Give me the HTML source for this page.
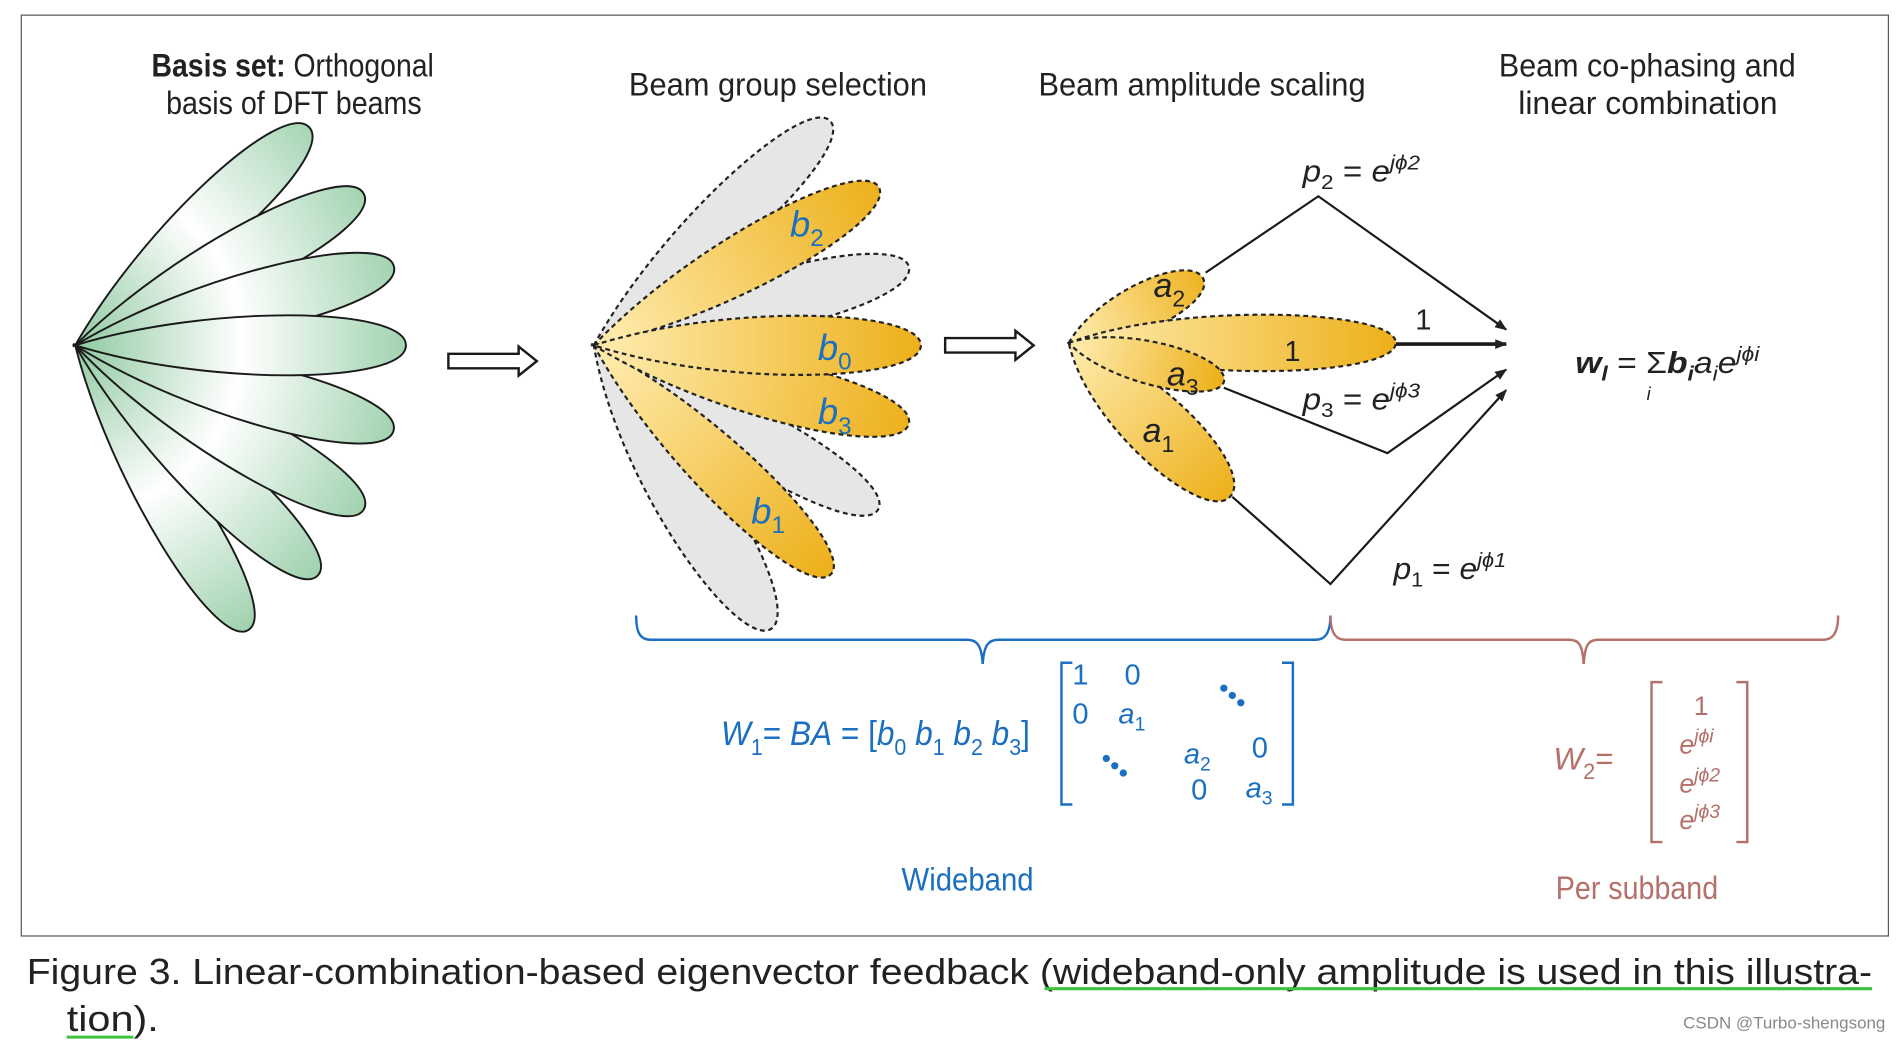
<!DOCTYPE html>
<html><head><meta charset="utf-8"><style>html,body{margin:0;padding:0;background:#fff}svg{display:block}text{font-family:"Liberation Sans",sans-serif}</style></head>
<body>
<svg width="1900" height="1042" viewBox="0 0 1568 860" xmlns="http://www.w3.org/2000/svg">
<defs>
<linearGradient id="g" gradientUnits="userSpaceOnUse" x1="0" y1="0" x2="275" y2="0"><stop offset="0" stop-color="#8fc9a0"/><stop offset="0.5" stop-color="#ffffff"/><stop offset="1" stop-color="#9fd2ae"/></linearGradient>
<linearGradient id="o" gradientUnits="userSpaceOnUse" x1="20" y1="0" x2="270" y2="0"><stop offset="0" stop-color="#fee9a8"/><stop offset="1" stop-color="#edb01a"/></linearGradient>
<linearGradient id="o2" gradientUnits="userSpaceOnUse" x1="10" y1="0" x2="130" y2="0"><stop offset="0" stop-color="#fee9a8"/><stop offset="1" stop-color="#edb01a"/></linearGradient>
<linearGradient id="o3" gradientUnits="userSpaceOnUse" x1="10" y1="0" x2="185" y2="0"><stop offset="0" stop-color="#fee9a8"/><stop offset="1" stop-color="#edb01a"/></linearGradient>
<marker id="ar" markerWidth="10" markerHeight="8" refX="9" refY="4" orient="auto" markerUnits="userSpaceOnUse"><path d="M0,0 L10,4 L0,8 Z" fill="#222"/></marker>
</defs>
<rect x="17.5" y="12.5" width="1541" height="760" fill="#fff" stroke="#555" stroke-width="1"/>

<g transform="translate(62,285)" stroke="#1a1a1a" stroke-width="1.6" fill="url(#g)">
<path transform="rotate(58.7)" d="M0,0 C110,-34 275,-32 275,0 C275,32 110,34 0,0Z"/>
<path transform="rotate(43.5)" d="M0,0 C110,-34 276,-32 276,0 C276,32 110,34 0,0Z"/>
<path transform="rotate(29.6)" d="M0,0 C110,-34 274,-32 274,0 C274,32 110,34 0,0Z"/>
<path transform="rotate(15)" d="M0,0 C110,-34 272,-32 272,0 C272,32 110,34 0,0Z"/>
<path transform="rotate(-43)" d="M0,0 C110,-34 264,-32 264,0 C264,32 110,34 0,0Z"/>
<path transform="rotate(-27.7)" d="M0,0 C110,-34 269,-32 269,0 C269,32 110,34 0,0Z"/>
<path transform="rotate(-13.9)" d="M0,0 C110,-34 271,-32 271,0 C271,32 110,34 0,0Z"/>
<path transform="rotate(0)" d="M0,0 C110,-34 273,-32 273,0 C273,32 110,34 0,0Z"/>
</g>

<g transform="translate(490,285)" stroke="#222" stroke-width="1.8" stroke-dasharray="4,3">
<path transform="rotate(58)" fill="#e6e6e6" d="M0,0 C110,-45 276,-32 276,0 C276,32 110,45 0,0Z"/>
<path transform="rotate(30)" fill="#e6e6e6" d="M0,0 C110,-35 271,-30 271,0 C271,30 110,35 0,0Z"/>
<path transform="rotate(-43.5)" fill="#e6e6e6" d="M0,0 C110,-35 269,-30 269,0 C269,30 110,35 0,0Z"/>
<path transform="rotate(-14)" fill="#e6e6e6" d="M0,0 C110,-35 268,-30 268,0 C268,30 110,35 0,0Z"/>
<path transform="rotate(44)" fill="url(#o)" d="M0,0 C110,-35 272,-30 272,0 C272,30 110,35 0,0Z"/>
<path transform="rotate(-29)" fill="url(#o)" d="M0,0 C110,-35 269,-30 269,0 C269,30 110,35 0,0Z"/>
<path transform="rotate(14)" fill="url(#o)" d="M0,0 C110,-35 268,-30 268,0 C268,30 110,35 0,0Z"/>
<path transform="rotate(0)" fill="url(#o)" d="M0,0 C110,-35 270,-30 270,0 C270,30 110,35 0,0Z"/>
</g>
<g fill="#1a6fc0" font-style="italic" font-size="30">
<text x="652" y="195">b<tspan font-size="20" dy="8" font-style="normal">2</tspan></text>
<text x="675" y="297">b<tspan font-size="20" dy="8" font-style="normal">0</tspan></text>
<text x="675" y="350">b<tspan font-size="20" dy="8" font-style="normal">3</tspan></text>
<text x="620" y="432">b<tspan font-size="20" dy="8" font-style="normal">1</tspan></text>
</g>

<g transform="translate(882,283)" stroke="#222" stroke-width="1.8" stroke-dasharray="4,3">
<path transform="rotate(43.7)" fill="url(#o3)" d="M0,0 C60,-40 184,-32 184,0 C184,30 60,40 0,0Z"/>
<path transform="rotate(-25.5)" fill="url(#o2)" d="M0,0 C40,-28 123,-24 123,0 C123,22 40,28 0,0Z"/>
<path transform="rotate(0)" fill="url(#o)" d="M0,0 C90,-34 270,-28 270,0 C270,28 90,34 0,0Z"/>
<path transform="rotate(14)" fill="url(#o2)" d="M0,0 C40,-26 132,-22 132,0 C132,20 40,26 0,0Z"/>
</g>
<g fill="#222" font-style="italic" font-size="28">
<text x="952" y="245">a<tspan font-size="19" dy="8" font-style="normal">2</tspan></text>
<text x="963" y="318">a<tspan font-size="19" dy="8" font-style="normal">3</tspan></text>
<text x="943" y="365">a<tspan font-size="19" dy="8" font-style="normal">1</tspan></text>
<text x="1060" y="298" font-style="normal" font-size="24">1</text>
<text x="1168" y="272" font-style="normal" font-size="24">1</text>
</g>

<g stroke="#1a1a1a" stroke-width="1.8" fill="none">
<polyline points="995,225 1088,162 1243,272" marker-end="url(#ar)"/>
<line x1="1152" y1="284" x2="1243" y2="284" stroke-width="3" marker-end="url(#ar)"/>
<polyline points="1010,320 1145,374 1243,305" marker-end="url(#ar)"/>
<polyline points="1017,410 1098,482 1243,322" marker-end="url(#ar)"/>
</g>
<g fill="#fff" stroke="#1a1a1a" stroke-width="2">
<path d="M370,292 L428,292 L428,286 L443,298 L428,310 L428,304 L370,304 Z"/>
<path d="M780,279 L838,279 L838,273 L853,285 L838,297 L838,291 L780,291 Z"/>
</g>

<g fill="#222" font-size="25">
<text x="1075" y="150" font-style="italic" textLength="97" lengthAdjust="spacingAndGlyphs">p<tspan font-size="17" dy="6" font-style="normal">2</tspan><tspan dy="-6" font-style="normal"> = </tspan>e<tspan font-size="17" dy="-10">jϕ2</tspan></text>
<text x="1075" y="338" font-style="italic" textLength="97" lengthAdjust="spacingAndGlyphs">p<tspan font-size="17" dy="6" font-style="normal">3</tspan><tspan dy="-6" font-style="normal"> = </tspan>e<tspan font-size="17" dy="-10">jϕ3</tspan></text>
<text x="1150" y="478" font-style="italic" textLength="93" lengthAdjust="spacingAndGlyphs">p<tspan font-size="17" dy="6" font-style="normal">1</tspan><tspan dy="-6" font-style="normal"> = </tspan>e<tspan font-size="17" dy="-10">jϕ1</tspan></text>
<text x="1300" y="308" font-style="italic" font-weight="bold" textLength="152" lengthAdjust="spacingAndGlyphs">w<tspan font-size="17" dy="6">l</tspan><tspan dy="-6" font-weight="normal" font-style="normal"> = </tspan><tspan font-style="normal" font-weight="normal">Σ</tspan>b<tspan font-size="17" dy="6">i</tspan><tspan dy="-6" font-weight="normal">a</tspan><tspan font-size="17" dy="6" font-weight="normal">i</tspan><tspan dy="-6" font-weight="normal">e</tspan><tspan font-size="17" dy="-10" font-weight="normal">jϕi</tspan></text>
<text x="1359" y="330" font-size="15" font-style="italic">i</text>
</g>
<g fill="#222" font-size="27">
<text x="125" y="63" textLength="233" lengthAdjust="spacingAndGlyphs"><tspan font-weight="bold">Basis set:</tspan> Orthogonal</text>
<text x="137" y="94" textLength="211" lengthAdjust="spacingAndGlyphs">basis of DFT beams</text>
<text x="519" y="79" textLength="246" lengthAdjust="spacingAndGlyphs">Beam group selection</text>
<text x="857" y="79" textLength="270" lengthAdjust="spacingAndGlyphs">Beam amplitude scaling</text>
<text x="1237" y="63" textLength="245" lengthAdjust="spacingAndGlyphs">Beam co-phasing and</text>
<text x="1253" y="94" textLength="214" lengthAdjust="spacingAndGlyphs">linear combination</text>
</g>

<path d="M525,508 C525,520 527,528 537,528 L798,528 C806,528 810,532 811,548 C812,532 816,528 824,528 L1086,528 C1095,528 1098,520 1098,508" fill="none" stroke="#1a6fc0" stroke-width="2"/>
<path d="M1098,508 C1098,520 1101,528 1110,528 L1295,528 C1303,528 1306,532 1307,548 C1308,532 1311,528 1319,528 L1505,528 C1514,528 1517,520 1517,508" fill="none" stroke="#b5706a" stroke-width="2"/>

<g fill="#1a6fc0" font-size="28" font-style="italic">
<text x="595" y="615" textLength="255" lengthAdjust="spacingAndGlyphs">W<tspan font-size="19" dy="8" font-style="normal">1</tspan><tspan dy="-8" font-style="normal">= </tspan>BA<tspan font-style="normal"> = [</tspan>b<tspan font-size="19" dy="8" font-style="normal">0</tspan><tspan dy="-8"> b</tspan><tspan font-size="19" dy="8" font-style="normal">1</tspan><tspan dy="-8"> b</tspan><tspan font-size="19" dy="8" font-style="normal">2</tspan><tspan dy="-8"> b</tspan><tspan font-size="19" dy="8" font-style="normal">3</tspan><tspan dy="-8" font-style="normal">]</tspan></text>
</g>
<path d="M885,547 L876,547 L876,664 L885,664 M1058,547 L1067,547 L1067,664 L1058,664" fill="none" stroke="#1a6fc0" stroke-width="2"/>
<g fill="#1a6fc0" font-size="24">
<text x="885" y="565">1</text><text x="928" y="565">0</text>
<text x="885" y="597">0</text><text x="923" y="597" font-style="italic">a<tspan font-size="16" dy="6" font-style="normal">1</tspan></text>
<text x="977" y="630" font-style="italic">a<tspan font-size="16" dy="6" font-style="normal">2</tspan></text><text x="1033" y="625">0</text>
<text x="983" y="660">0</text><text x="1028" y="658" font-style="italic">a<tspan font-size="16" dy="6" font-style="normal">3</tspan></text>
<circle cx="1010" cy="568" r="3"/><circle cx="1017" cy="574" r="3"/><circle cx="1024" cy="580" r="3"/>
<circle cx="913" cy="626" r="3"/><circle cx="920" cy="632" r="3"/><circle cx="927" cy="638" r="3"/>
<text x="744" y="735" font-size="27" textLength="109" lengthAdjust="spacingAndGlyphs">Wideband</text>
</g>

<g fill="#b5706a" font-size="26">
<text x="1282" y="635" font-style="italic">W<tspan font-size="18" dy="8" font-style="normal">2</tspan><tspan dy="-8" font-style="normal">=</tspan></text>
<text x="1404" y="590" text-anchor="middle" font-size="22">1</text>
<text x="1386" y="622" font-style="italic" font-size="22">e<tspan font-size="16" dy="-9">jϕi</tspan></text>
<text x="1386" y="654" font-style="italic" font-size="22">e<tspan font-size="16" dy="-9">jϕ2</tspan></text>
<text x="1386" y="684" font-style="italic" font-size="22">e<tspan font-size="16" dy="-9">jϕ3</tspan></text>
<text x="1284" y="742" font-size="27" textLength="134" lengthAdjust="spacingAndGlyphs">Per subband</text>
</g>
<path d="M1372,563 L1363,563 L1363,695 L1372,695 M1433,563 L1442,563 L1442,695 L1433,695" fill="none" stroke="#b5706a" stroke-width="2"/>

<g fill="#222" font-size="30">
<text x="22" y="812" textLength="1523" lengthAdjust="spacingAndGlyphs">Figure 3. Linear-combination-based eigenvector feedback (wideband-only amplitude is used in this illustra-</text>
<text x="55" y="851" textLength="76" lengthAdjust="spacingAndGlyphs">tion).</text>
</g>
<line x1="862" y1="816" x2="1545" y2="816" stroke="#3ec33e" stroke-width="2.5"/>
<line x1="55" y1="856" x2="110" y2="856" stroke="#3ec33e" stroke-width="2.5"/>
<text x="1556" y="849" text-anchor="end" font-size="14" fill="#888">CSDN @Turbo-shengsong</text>
</svg>
</body></html>
